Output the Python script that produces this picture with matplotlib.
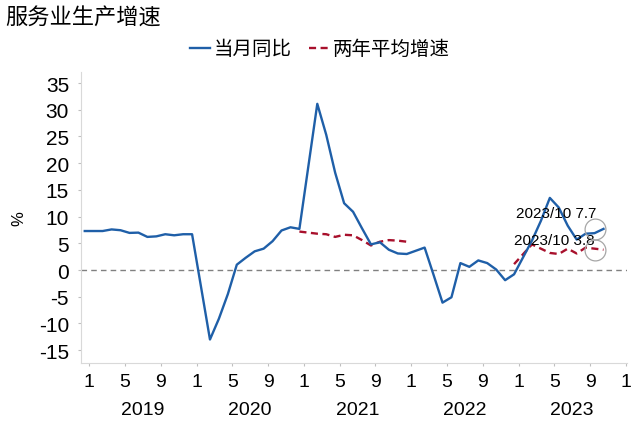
import matplotlib.pyplot as plt
import numpy as np

plt.rcParams['font.family'] = ['Liberation Sans', 'Noto Sans CJK SC']
plt.rcParams['axes.unicode_minus'] = False

# 当月同比 (Jan is merged into Feb, so no Jan points)
blue_months = ['2018-12',
               '2019-02', '2019-03', '2019-04', '2019-05', '2019-06', '2019-07',
               '2019-08', '2019-09', '2019-10', '2019-11', '2019-12',
               '2020-02', '2020-03', '2020-04', '2020-05', '2020-06', '2020-07',
               '2020-08', '2020-09', '2020-10', '2020-11', '2020-12',
               '2021-02', '2021-03', '2021-04', '2021-05', '2021-06', '2021-07',
               '2021-08', '2021-09', '2021-10', '2021-11', '2021-12',
               '2022-02', '2022-03', '2022-04', '2022-05', '2022-06', '2022-07',
               '2022-08', '2022-09', '2022-10', '2022-11', '2022-12',
               '2023-02', '2023-03', '2023-04', '2023-05', '2023-06', '2023-07',
               '2023-08', '2023-09', '2023-10']
blue_values = [7.3,
               7.3, 7.6, 7.45, 6.95, 7.0, 6.2, 6.3, 6.7, 6.5, 6.7, 6.7,
               -13.0, -9.1, -4.5, 1.0, 2.3, 3.5, 4.0, 5.4, 7.4, 8.0, 7.7,
               31.1, 25.3, 18.2, 12.5, 10.9, 7.8, 4.8, 5.2, 3.8, 3.1, 3.0,
               4.2, -0.9, -6.1, -5.1, 1.3, 0.6, 1.8, 1.3, 0.1, -1.9, -0.8,
               5.5, 9.2, 13.5, 11.7, 8.3, 5.7, 6.8, 6.9, 7.7]

# 两年平均增速 (nan breaks the line during 2022)
red_months = ['2020-12',
              '2021-02', '2021-03', '2021-04', '2021-05', '2021-06', '2021-07',
              '2021-08', '2021-09', '2021-10', '2021-11', '2021-12',
              '2022-06',
              '2022-12',
              '2023-02', '2023-03', '2023-04', '2023-05', '2023-06', '2023-07',
              '2023-08', '2023-09', '2023-10']
red_values = [7.2,
              6.8, 6.7, 6.2, 6.6, 6.5, 5.6, 4.6, 5.3, 5.6, 5.5, 5.3,
              np.nan,
              1.1,
              4.8, 4.0, 3.2, 3.0, 4.0, 3.1, 4.2, 4.0, 3.8]

tick_labels = ['1', '5', '9'] * 5 + ['1']
years = ['2019', '2020', '2021', '2022', '2023']
yticks = [-15, -10, -5, 0, 5, 10, 15, 20, 25, 30, 35]


def month_pos(m):
    y, mo = m.split('-')
    return (int(y) - 2019) * 12 + int(mo) - 1 + 0.5


bx = np.array([month_pos(m) for m in blue_months])
rx = np.array([month_pos(m) for m in red_months])

fig = plt.figure(figsize=(6.4, 4.27), dpi=100)
ax = fig.add_axes([0.126, 0.1475, 0.854, 0.6808])

ax.axhline(0, color='#808080', lw=1.0, ls=(0, (4, 3)), zorder=1)
ax.plot(bx, blue_values, color='#1f5fa8', lw=1.7, label='当月同比', zorder=3)
ax.plot(rx, red_values, color='#a8102c', lw=1.7, ls=(0, (3.0, 1.9)),
        label='两年平均增速', zorder=2)

# end-point markers (drawn one month left, as in the source chart)
last_b, last_r = blue_values[-1], red_values[-1]
ax.plot(bx[-1] - 1, last_b, 'o', ms=15, mfc='none', mec='#a6a6a6', mew=0.9, zorder=4)
ax.plot(rx[-1] - 1, last_r, 'o', ms=15, mfc='none', mec='#a6a6a6', mew=0.9, zorder=4)
ax.annotate('2023/10 %.1f' % last_b, (bx[-1] - 1, last_b), xytext=(1, 8.4),
            textcoords='offset points', ha='right', va='baseline', fontsize=11)
ax.annotate('2023/10 %.1f' % last_r, (rx[-1] - 1, last_r), xytext=(0, 4.3),
            textcoords='offset points', ha='right', va='baseline', fontsize=11)

ax.set_xlim(-0.96, 60.15)
ax.set_ylim(-17.4, 37)
ax.set_xticks(np.arange(0, 61, 4), tick_labels)
ax.set_yticks(yticks)
ax.tick_params(axis='both', colors='#bfbfbf', labelcolor='black', length=2.5,
               width=0.8, labelsize=14)
ax.tick_params(axis='y', pad=5.8, labelsize=15)
ax.tick_params(axis='x', pad=4.5)
for s in ['top', 'right']:
    ax.spines[s].set_visible(False)
for s in ['left', 'bottom']:
    ax.spines[s].set_color('#d9d9d9')
    ax.spines[s].set_linewidth(0.8)

for i, yr in enumerate(years):
    ax.text(i * 12 + 6, -0.16, yr, transform=ax.get_xaxis_transform(),
            ha='center', va='center', fontsize=14)

ax.set_ylabel('%', fontsize=12, labelpad=9)

fig.text(0.008, 0.958, '服务业生产增速', fontsize=16, va='center', ha='left',
         family=['Noto Sans CJK SC'])
fig.legend(loc='center', bbox_to_anchor=(0.5, 0.883), ncol=2, frameon=False,
           prop={'family': ['Noto Sans CJK SC'], 'size': 14},
           handlelength=1.0, handletextpad=0.2, columnspacing=0.9)

fig.savefig('out.png', dpi=100)
